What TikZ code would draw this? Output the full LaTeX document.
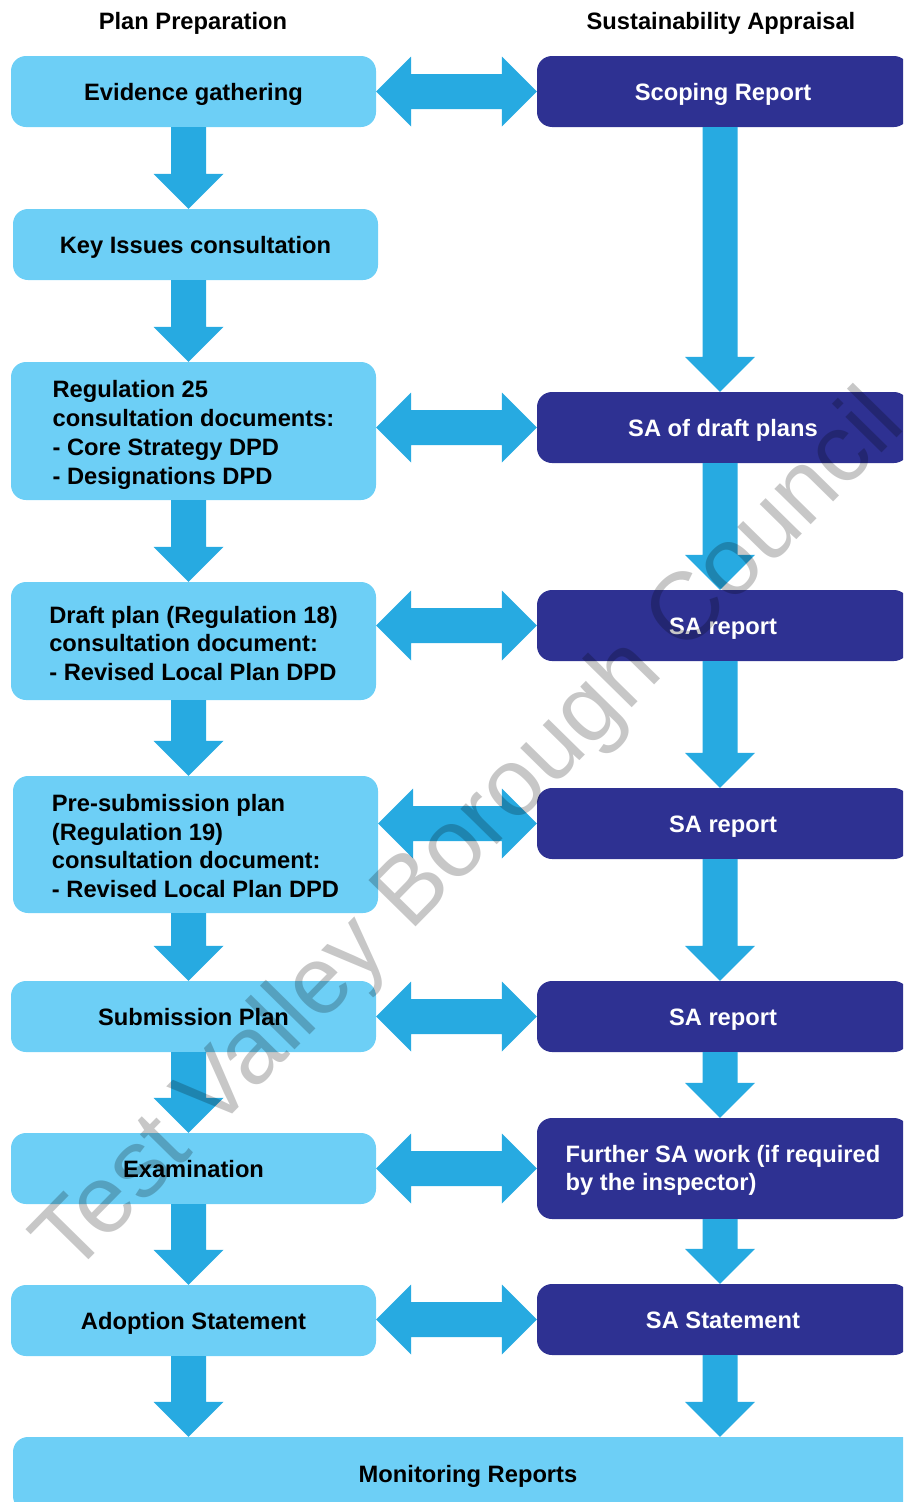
\documentclass[tikz,border=0pt]{standalone}
\usepackage{fontspec}
\setmainfont{Liberation Sans}
\usetikzlibrary{calc}
\definecolor{planblue}{RGB}{109,207,246}
\definecolor{flowblue}{RGB}{39,170,225}
\definecolor{sanavy}{RGB}{46,49,146}
\tikzset{
  lbox/.style={fill=planblue, rounded corners=15pt, inner sep=0pt, minimum width=365pt, minimum height=71pt, text=black, align=left},
  rbox/.style={fill=sanavy, rounded corners=15pt, inner sep=0pt, minimum width=372pt, minimum height=71pt, text=white, align=left},
  oneline/.style={text height=22pt, text depth=5pt},
  flow/.style={fill=flowblue},
  head/.style={inner sep=0pt, oneline}
}
\newcommand{\downflow}[3]{\fill[flow] ($(#1 |- #2.south)+(-17.5,0)$) -- ($(#1 |- #3.north)+(-17.5,-35)$) -- ++(-17.5,0) -- (#1 |- #3.north) -- ++(35,-35) -- ++(-17.5,0) -- ($(#1 |- #2.south)+(17.5,0)$) -- cycle;}
\newcommand{\bothflow}[2]{\fill[flow] (#1.east |- #2.west) -- ++(35,-35) -- ++(0,17.5) -- ($(#2.west)+(-35,-17.5)$) -- ++(0,-17.5) -- (#2.west) -- ++(-35,35) -- ++(0,-17.5) -- ($(#1.east |- #2.west)+(35,17.5)$) -- ++(0,17.5) -- cycle;}
\begin{document}
\begin{tikzpicture}[x=1pt,y=-1pt,font=\bfseries\fontsize{23.7}{28.7}\selectfont]
\useasboundingbox (0,0) rectangle (903,1502);
\clip (0,0) rectangle (903,1502);
\node [head] (lhead) at (193,21) {Plan Preparation};
\node [head] (rhead) at (721,21) {Sustainability Appraisal};
\node [lbox, oneline] (evid) at (193.5,91.5) {Evidence gathering};
\node [lbox, oneline] (keyiss) at (195.5,244.5) {Key Issues consultation};
\node [lbox, minimum height=138pt] (reg25) at (193.5,431) {\rule{0pt}{25pt}Regulation 25\\consultation documents:\\- Core Strategy DPD\\- Designations DPD};
\node [lbox, minimum height=118pt] (draft) at (193.5,641) {\rule{0pt}{22pt}Draft plan (Regulation 18)\\consultation document:\\- Revised Local Plan DPD};
\node [lbox, minimum height=137pt] (presub) at (195.5,844.5) {\rule{0pt}{20pt}Pre-submission plan\\(Regulation 19)\\consultation document:\\- Revised Local Plan DPD};
\node [lbox, oneline] (subm) at (193.5,1016.5) {Submission Plan};
\node [lbox, oneline] (exam) at (193.5,1168.5) {Examination};
\node [lbox, oneline] (adopt) at (193.5,1320.5) {Adoption Statement};
\node [lbox, oneline, minimum width=910pt, minimum height=74pt] (monit) at (468,1474) {Monitoring Reports};
\node [rbox, oneline] (scop) at (723,91.5) {Scoping Report};
\node [rbox, oneline] (sadraft) at (723,427.5) {SA of draft plans};
\node [rbox, oneline] (sarep1) at (723,625.5) {SA report};
\node [rbox, oneline] (sarep2) at (723,823.5) {SA report};
\node [rbox, oneline] (sarep3) at (723,1016.5) {SA report};
\node [rbox, minimum height=101pt] (further) at (723,1168.5) {\rule{0pt}{21pt}Further SA work (if required\\by the inspector)};
\node [rbox, oneline] (sastat) at (723,1319.5) {SA Statement};
\coordinate (lcol) at (188.5,0);
\coordinate (rcol) at (720,0);
\downflow{lcol}{evid}{keyiss}
\downflow{lcol}{keyiss}{reg25}
\downflow{lcol}{reg25}{draft}
\downflow{lcol}{draft}{presub}
\downflow{lcol}{presub}{subm}
\downflow{lcol}{subm}{exam}
\downflow{lcol}{exam}{adopt}
\downflow{lcol}{adopt}{monit}
\downflow{rcol}{scop}{sadraft}
\downflow{rcol}{sadraft}{sarep1}
\downflow{rcol}{sarep1}{sarep2}
\downflow{rcol}{sarep2}{sarep3}
\downflow{rcol}{sarep3}{further}
\downflow{rcol}{further}{sastat}
\downflow{rcol}{sastat}{monit}
\bothflow{evid}{scop}
\bothflow{reg25}{sadraft}
\bothflow{draft}{sarep1}
\bothflow{presub}{sarep2}
\bothflow{subm}{sarep3}
\bothflow{exam}{further}
\bothflow{adopt}{sastat}
\node [anchor=base west, rotate=45.5, inner sep=0pt, text=black, text opacity=0.22, font=\mdseries\fontsize{96}{96}\selectfont] (wmark) at (71,1278) {Test Valley Borough Council};
\end{tikzpicture}
\end{document}
